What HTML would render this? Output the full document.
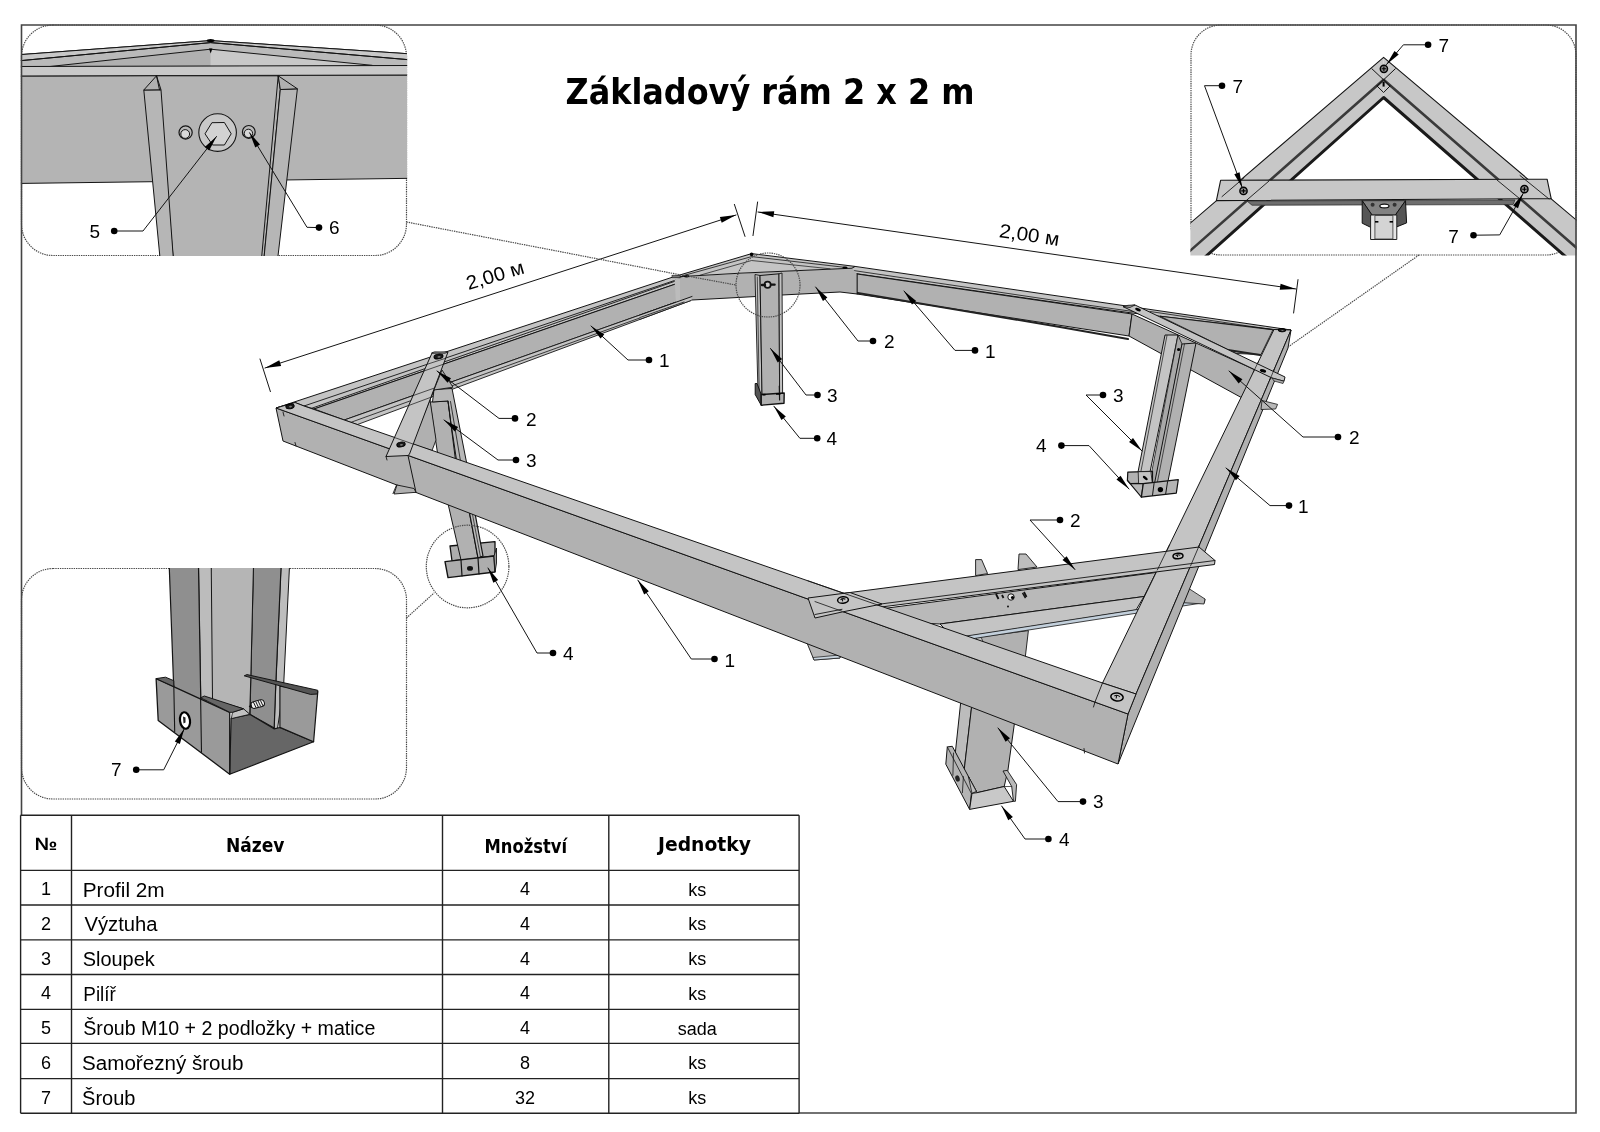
<!DOCTYPE html>
<html lang="cs"><head><meta charset="utf-8"><title>Základový rám 2 x 2 m</title>
<style>html,body{margin:0;padding:0;background:#fff}svg{display:block}text{font-family:"Liberation Sans",sans-serif;fill:#000}svg{will-change:transform}</style></head>
<body>
<svg width="1600" height="1132" viewBox="0 0 1600 1132">
<rect width="1600" height="1132" fill="#fff"/>
<defs>
<clipPath id="c1"><rect x="20.9" y="24.4" width="386.2" height="231.7" rx="32" ry="32"/></clipPath>
<clipPath id="c2"><rect x="1191" y="25" width="385" height="230" rx="30" ry="30"/></clipPath>
<clipPath id="c2b"><rect x="1190.4" y="24.4" width="386.2" height="231.2"/></clipPath>
<clipPath id="c3"><rect x="20.9" y="567.9" width="386.2" height="231.7" rx="32" ry="32"/></clipPath>
</defs>
<rect x="21.5" y="25" width="385" height="230.5" rx="31.5" ry="31.5" stroke="#4a4a4a" stroke-width="1.2" stroke-dasharray="1.4 0.9" fill="none"/>
<rect x="1191" y="25" width="385" height="230" rx="30" ry="30" stroke="#4a4a4a" stroke-width="1.2" stroke-dasharray="1.4 0.9" fill="none"/>
<rect x="21.5" y="568.5" width="385" height="230.5" rx="31.5" ry="31.5" stroke="#4a4a4a" stroke-width="1.2" stroke-dasharray="1.4 0.9" fill="none"/>
<g clip-path="url(#c1)">
<polygon points="15,76 412,75 412,178.3 15,183.5" fill="#b4b4b4" stroke="#141414" stroke-width="1" stroke-linejoin="round" />
<polygon points="15,55 210.6,40.6 412,54 412,66 15,67" fill="#bababa" stroke="#141414" stroke-width="1" stroke-linejoin="round" />
<polygon points="15,55 210.6,40.6 412,54 412,60 210.6,42.6 15,61.2" fill="#c8c8c8" stroke="#141414" stroke-width="1" stroke-linejoin="round" />
<polygon points="50,66.5 210.6,49.2 210.6,66.5" fill="#b0b0b0" stroke="none" stroke-width="1" stroke-linejoin="round" />
<polygon points="210.6,49.2 370,65 210.6,66.5" fill="#c8c8c8" stroke="none" stroke-width="1" stroke-linejoin="round" />
<polyline points="15,61.2 210.6,42.6 412,60" fill="none" stroke="#141414" stroke-width="1" stroke-linejoin="round" stroke-linecap="round" />
<polyline points="50,66.5 210.6,49.2 372,65.3" fill="none" stroke="#141414" stroke-width="1" stroke-linejoin="round" stroke-linecap="round" />
<polygon points="15,66.5 412,65.5 412,75 15,76" fill="#c9c9c9" stroke="#141414" stroke-width="1" stroke-linejoin="round" />
<ellipse cx="210.6" cy="40.6" rx="4" ry="1.6" fill="#000" stroke="none" stroke-width="1"/>
<polygon points="209,48.5 212.4,48.5 210.7,53.5" fill="#000" stroke="none" stroke-width="1" stroke-linejoin="round" />
<polygon points="156.5,75.8 278.2,75.8 280.3,89.5 263.6,262 173.6,262" fill="#b4b4b4" stroke="#141414" stroke-width="1" stroke-linejoin="round" />
<polygon points="143.8,90 161,89.8 173.6,262 160.4,262" fill="#b6b6b6" stroke="#141414" stroke-width="1" stroke-linejoin="round" />
<polygon points="156.5,75.8 143.8,90 161,89.8" fill="#b0b0b0" stroke="#141414" stroke-width="1" stroke-linejoin="round" />
<polyline points="156.5,75.8 159.5,89.8" fill="none" stroke="#141414" stroke-width="1" stroke-linejoin="round" stroke-linecap="round" />
<polygon points="280.3,89.5 297.4,88.8 277.3,262 263.6,262" fill="#b6b6b6" stroke="#141414" stroke-width="1" stroke-linejoin="round" />
<polygon points="278.2,75.8 297.4,88.8 280.3,89.5" fill="#b0b0b0" stroke="#141414" stroke-width="1" stroke-linejoin="round" />
<polyline points="278.2,75.8 261.2,262" fill="none" stroke="#141414" stroke-width="1" stroke-linejoin="round" stroke-linecap="round" />
<circle cx="217.6" cy="132.6" r="18.8" fill="#c8c8c8" stroke="#141414" stroke-width="1.1" />
<polygon points="211.9,122.7 224.4,122.5 231.2,133.8 224.4,145 212.5,145 205,133.8" fill="#d2d2d2" stroke="#141414" stroke-width="1" stroke-linejoin="round" />
<circle cx="185.6" cy="132.5" r="6.6" fill="#b8b8b8" stroke="#141414" stroke-width="1.2" />
<circle cx="185.2" cy="134" r="4.4" fill="#d8d8d8" stroke="#141414" stroke-width="1" />
<circle cx="248.8" cy="131.9" r="6.4" fill="#b8b8b8" stroke="#141414" stroke-width="1.2" />
<circle cx="248.4" cy="133.4" r="4.2" fill="#d8d8d8" stroke="#141414" stroke-width="1" />
</g>
<polyline points="114.2,231 143,231 216.5,136.5" fill="none" stroke="#141414" stroke-width="1" stroke-linejoin="round" stroke-linecap="round" />
<circle cx="114.2" cy="231" r="3.3" fill="#000" stroke="none" stroke-width="1" />
<polygon points="216.5,136.5 209.194,150.454 204.774,147.016" fill="#000" stroke="none" stroke-width="1" stroke-linejoin="round" />
<polyline points="319,227.6 307,227.3 249.6,132.8" fill="none" stroke="#141414" stroke-width="1" stroke-linejoin="round" stroke-linecap="round" />
<circle cx="319" cy="227.6" r="3.3" fill="#000" stroke="none" stroke-width="1" />
<polygon points="249.6,132.8 260.04,144.594 255.254,147.501" fill="#000" stroke="none" stroke-width="1" stroke-linejoin="round" />
<text x="89.5" y="237.7" font-size="19" text-anchor="start" font-weight="normal" >5</text>
<text x="329" y="233.8" font-size="19" text-anchor="start" font-weight="normal" >6</text>
<g clip-path="url(#c2b)">
<polygon points="1383.6,57.4 1144.92,262 1199.56,262 1383.6,97.5" fill="#c7c7c7" stroke="none" stroke-width="1" stroke-linejoin="round" />
<polygon points="1383.6,57.4 1626,262 1571.72,262 1383.6,97.5" fill="#c7c7c7" stroke="none" stroke-width="1" stroke-linejoin="round" />
<polyline points="1144.92,262 1383.6,57.4 1626,262" fill="none" stroke="#141414" stroke-width="1.1" stroke-linejoin="round" stroke-linecap="round" />
<polyline points="1177.42,262 1383.6,79.8 1592.89,262" fill="none" stroke="#3a3a3a" stroke-width="2.6" stroke-linejoin="round" stroke-linecap="round" />
<polyline points="1199.56,262 1383.6,97.5 1571.72,262" fill="none" stroke="#1a1a1a" stroke-width="3" stroke-linejoin="round" stroke-linecap="round" />
<polyline points="1371.9,68.8 1383.6,79.8 1395.3,68.8" fill="none" stroke="#141414" stroke-width="1" stroke-linejoin="round" stroke-linecap="round" />
<polyline points="1377,86 1383.6,92.5 1390,86" fill="none" stroke="#141414" stroke-width="1" stroke-linejoin="round" stroke-linecap="round" />
<polyline points="1377,86 1383.6,79.8 1390,86" fill="none" stroke="#141414" stroke-width="1" stroke-linejoin="round" stroke-linecap="round" />
<polygon points="1247,201 1515,200 1513,204.6 1252,205.2" fill="#6e6e6e" stroke="#333" stroke-width="0.8" stroke-linejoin="round" />
<polygon points="1220.6,180.3 1547.1,179.2 1551.2,198.6 1216.4,200.6" fill="#c7c7c7" stroke="#141414" stroke-width="1.1" stroke-linejoin="round" />
<polyline points="1244,177.8 1222,196.6" fill="none" stroke="#141414" stroke-width="0.9" stroke-linejoin="round" stroke-linecap="round" />
<polyline points="1269,181 1246,200.8" fill="none" stroke="#141414" stroke-width="0.9" stroke-linejoin="round" stroke-linecap="round" />
<polyline points="1520,175.5 1549,199" fill="none" stroke="#141414" stroke-width="0.9" stroke-linejoin="round" stroke-linecap="round" />
<polyline points="1497,180 1522,200.6" fill="none" stroke="#141414" stroke-width="0.9" stroke-linejoin="round" stroke-linecap="round" />
<polygon points="1362.2,200.7 1405.5,200.7 1395.4,215 1372,215" fill="#828282" stroke="#222" stroke-width="0.8" stroke-linejoin="round" />
<polygon points="1362.2,200.7 1362.2,223.2 1373.7,228.8 1372,215" fill="#555" stroke="#111" stroke-width="1" stroke-linejoin="round" />
<polygon points="1405.5,200.7 1406.6,222.9 1393.4,228.2 1395.4,215" fill="#555" stroke="#111" stroke-width="1" stroke-linejoin="round" />
<polygon points="1370.6,215 1396.8,215 1396.8,239.5 1370.6,239.5" fill="#e6e6e6" stroke="#222" stroke-width="1" stroke-linejoin="round" />
<polygon points="1374.9,215.5 1392.9,215.5 1392.9,239 1374.9,239" fill="#d4d4d4" stroke="#333" stroke-width="0.8" stroke-linejoin="round" />
<ellipse cx="1384.4" cy="206" rx="4.6" ry="1.9" fill="#fff" stroke="#111" stroke-width="1.2"/>
<circle cx="1372.6" cy="204.7" r="2" fill="#333" stroke="none" stroke-width="1" />
<circle cx="1394.6" cy="204.7" r="2" fill="#333" stroke="none" stroke-width="1" />
<rect x="1375" y="221" width="3.4" height="1.6" fill="#000"/><rect x="1389.6" y="221" width="3.4" height="1.6" fill="#000"/>
<circle cx="1383.9" cy="68.8" r="3.6" fill="#8a8a8a" stroke="#000" stroke-width="1.5" />
<path d="M1381.7 68.8 H1386.1000000000001 M1383.9 66.6 V71.0" stroke="#000" stroke-width="1.1"/>
<circle cx="1243.5" cy="190.9" r="3.6" fill="#8a8a8a" stroke="#000" stroke-width="1.5" />
<path d="M1241.3 190.9 H1245.7 M1243.5 188.70000000000002 V193.1" stroke="#000" stroke-width="1.1"/>
<circle cx="1524.4" cy="189.2" r="3.6" fill="#8a8a8a" stroke="#000" stroke-width="1.5" />
<path d="M1522.2 189.2 H1526.6000000000001 M1524.4 187.0 V191.39999999999998" stroke="#000" stroke-width="1.1"/>
<rect x="1382.6" y="82" width="2" height="4.6" fill="#000"/>
</g>
<polyline points="1428.1,44.8 1403.4,44.8 1386.5,64.5" fill="none" stroke="#141414" stroke-width="1" stroke-linejoin="round" stroke-linecap="round" />
<circle cx="1428.1" cy="44.8" r="3.3" fill="#000" stroke="none" stroke-width="1" />
<polygon points="1386.5,64.5 1394.47,50.9126 1398.72,54.5588" fill="#000" stroke="none" stroke-width="1" stroke-linejoin="round" />
<polyline points="1222,85.7 1204.5,85.7 1242.3,187.8" fill="none" stroke="#141414" stroke-width="1" stroke-linejoin="round" stroke-linecap="round" />
<circle cx="1222" cy="85.7" r="3.3" fill="#000" stroke="none" stroke-width="1" />
<polygon points="1242.3,187.8 1234.29,174.236 1239.54,172.292" fill="#000" stroke="none" stroke-width="1" stroke-linejoin="round" />
<polyline points="1473.5,235.2 1499.7,234.9 1523.2,193.4" fill="none" stroke="#141414" stroke-width="1" stroke-linejoin="round" stroke-linecap="round" />
<circle cx="1473.5" cy="235.2" r="3.3" fill="#000" stroke="none" stroke-width="1" />
<polygon points="1523.2,193.4 1518,208.267 1513.13,205.508" fill="#000" stroke="none" stroke-width="1" stroke-linejoin="round" />
<text x="1438.5" y="51.9" font-size="19" text-anchor="start" font-weight="normal" >7</text>
<text x="1232.5" y="92.6" font-size="19" text-anchor="start" font-weight="normal" >7</text>
<text x="1448.3" y="242.5" font-size="19" text-anchor="start" font-weight="normal" >7</text>
<g clip-path="url(#c3)">
<polygon points="281.3,560 289.8,560 283.5,688 277.5,728.5 274,728.5 275.8,684" fill="#bdbdbd" stroke="#141414" stroke-width="1" stroke-linejoin="round" />
<polygon points="253.6,560 281.4,560 275.8,684 274.2,728 250,714.5 250.8,677" fill="#8f8f8f" stroke="#141414" stroke-width="1.2" stroke-linejoin="round" />
<polygon points="211.2,560 253.6,560 250.8,677 249.7,714.3 243.5,708.8 204.3,697.5" fill="#b5b5b5" stroke="#141414" stroke-width="1" stroke-linejoin="round" />
<polygon points="198.4,560 211.2,560 212.5,699.5 200.8,702" fill="#bcbcbc" stroke="#141414" stroke-width="1" stroke-linejoin="round" />
<polygon points="169,560 198.4,560 200.8,702 173.8,690" fill="#8f8f8f" stroke="#141414" stroke-width="1.2" stroke-linejoin="round" />
<polygon points="231.1,718.5 249.7,714.3 274,728.8 280,727.5 313.6,741.8 229.7,774.2" fill="#666" stroke="#141414" stroke-width="1.2" stroke-linejoin="round" />
<polygon points="232.5,712.3 243.5,708.8 249.7,714.3 231.3,718.6" fill="#c2c2c2" stroke="#141414" stroke-width="0.8" stroke-linejoin="round" />
<polygon points="279.9,686.1 317.8,691.6 313.6,741.8 279.9,727.4" fill="#9a9a9a" stroke="#141414" stroke-width="1.2" stroke-linejoin="round" />
<polygon points="244.2,675.8 247,674.6 317.8,690.3 317.4,694 310.5,694.4" fill="#555" stroke="#141414" stroke-width="1" stroke-linejoin="round" />
<polygon points="156.1,678.6 229.7,712.3 229.7,774.2 158.2,720.5" fill="#9a9a9a" stroke="#141414" stroke-width="1.3" stroke-linejoin="round" />
<polyline points="173.8,685.5 174.7,731.5" fill="none" stroke="#141414" stroke-width="1.1" stroke-linejoin="round" stroke-linecap="round" />
<polyline points="200.6,697.8 201.5,752.2" fill="none" stroke="#141414" stroke-width="1.1" stroke-linejoin="round" stroke-linecap="round" />
<polygon points="156.1,678.6 165.5,677.2 173.8,680.7 173.8,686.6" fill="#666" stroke="#141414" stroke-width="1" stroke-linejoin="round" />
<polygon points="200.6,697.8 204.3,696 243.5,708.8 232.5,712.3 229.7,712.3" fill="#666" stroke="#141414" stroke-width="1" stroke-linejoin="round" />
<g transform="rotate(-14 258 704)"><rect x="251" y="700.6" width="13.5" height="6.8" rx="3" fill="#eee" stroke="#111" stroke-width="1"/><path d="M254 701 l1.2 6 M256.4 701 l1.2 6 M258.8 701 l1.2 6 M261.2 701 l1.2 6" stroke="#111" stroke-width="0.9"/><path d="M251.5 702 l-3.2 2.4 l3.2 2.4z" fill="#111"/></g>
<ellipse cx="185" cy="720.5" rx="5" ry="8.3" fill="#fff" stroke="#000" stroke-width="2.2" transform="rotate(-8 185 720.5)"/>
<path d="M183 716.5 l2.5 1 v5 l-2 1z" fill="#222"/>
</g>
<polyline points="136.2,769.8 163.7,769.8 184.3,728.8" fill="none" stroke="#141414" stroke-width="1" stroke-linejoin="round" stroke-linecap="round" />
<circle cx="136.2" cy="769.8" r="3.3" fill="#000" stroke="none" stroke-width="1" />
<polygon points="184.3,728.8 179.843,743.907 174.839,741.393" fill="#000" stroke="none" stroke-width="1" stroke-linejoin="round" />
<text x="111" y="776.3" font-size="19" text-anchor="start" font-weight="normal" >7</text>
<polygon points="276,408 673,277 690,279 314,409 304,406 295,402.5" fill="#c4c4c4" stroke="#141414" stroke-width="1" stroke-linejoin="round" />
<polyline points="304,406 676,280" fill="none" stroke="#141414" stroke-width="0.9" stroke-linejoin="round" stroke-linecap="round" />
<polyline points="311,408.5 680,279.5" fill="none" stroke="#141414" stroke-width="0.9" stroke-linejoin="round" stroke-linecap="round" />
<polygon points="314,409 690,279 692,296.5 344.3,420" fill="#b1b1b1" stroke="#141414" stroke-width="1" stroke-linejoin="round" />
<polygon points="344.3,420 692,296.5 691,300.5 676,306 357.3,424.6" fill="#c4c4c4" stroke="#141414" stroke-width="0.9" stroke-linejoin="round" />
<polyline points="351,422.3 684,302" fill="none" stroke="#141414" stroke-width="0.8" stroke-linejoin="round" stroke-linecap="round" />
<polygon points="855,266.4 1291,330 1274,329.5 1132,313 1060,303 842,271.6" fill="#c4c4c4" stroke="#141414" stroke-width="1" stroke-linejoin="round" />
<polyline points="850,270 1060,301.2 1140,312.5" fill="none" stroke="#141414" stroke-width="0.8" stroke-linejoin="round" stroke-linecap="round" />
<polygon points="857,274 1132,314 1129,336 857,294" fill="#b1b1b1" stroke="#141414" stroke-width="1" stroke-linejoin="round" />
<polyline points="840,290 1060,327 1128,339" fill="none" stroke="#222" stroke-width="2" stroke-linejoin="round" stroke-linecap="round" />
<polygon points="1160,316.2 1273,329.8 1261,354.5 1236,353.5" fill="#b1b1b1" stroke="#141414" stroke-width="0.9" stroke-linejoin="round" />
<polyline points="1150,311.5 1272,329.5" fill="none" stroke="#141414" stroke-width="0.8" stroke-linejoin="round" stroke-linecap="round" />
<polyline points="1228,350 1260,355" fill="none" stroke="#222" stroke-width="2" stroke-linejoin="round" stroke-linecap="round" />
<polygon points="676,279 688,276.5 740,273.5 852,268 857,274 857,294 840,292 782,295 756,296.5 692,300 676,306" fill="#b1b1b1" stroke="none" stroke-width="1" stroke-linejoin="round" />
<polygon points="674.5,279.5 680,279 680,302 676,303" fill="#bcbcbc" stroke="none" stroke-width="1" stroke-linejoin="round" />
<polyline points="692,300 756,296.5 782,295 840,292 857,294" fill="none" stroke="#141414" stroke-width="1" stroke-linejoin="round" stroke-linecap="round" />
<polygon points="640,315 692,296.5 691,300.5 676,306 640,319.3" fill="#c4c4c4" stroke="none" stroke-width="1" stroke-linejoin="round" />
<polyline points="640,315 692,296.5" fill="none" stroke="#141414" stroke-width="1" stroke-linejoin="round" stroke-linecap="round" />
<polyline points="640,319.3 676,306 691,300.5" fill="none" stroke="#141414" stroke-width="0.9" stroke-linejoin="round" stroke-linecap="round" />
<polyline points="640,317.5 684,302" fill="none" stroke="#141414" stroke-width="0.8" stroke-linejoin="round" stroke-linecap="round" />
<polygon points="673,277 751.6,253.6 855,266.4 852,268.2 740,273.2 688,276.2" fill="#c4c4c4" stroke="#141414" stroke-width="1" stroke-linejoin="round" />
<polyline points="682,276 751.6,256.6 846,267.5" fill="none" stroke="#141414" stroke-width="0.8" stroke-linejoin="round" stroke-linecap="round" />
<polyline points="700,275.2 751.6,260.5 830,268.8" fill="none" stroke="#141414" stroke-width="0.7" stroke-linejoin="round" stroke-linecap="round" />
<polyline points="857,274 857,294" fill="none" stroke="#141414" stroke-width="0.8" stroke-linejoin="round" stroke-linecap="round" />
<circle cx="751.6" cy="254.4" r="1.8" fill="#000" stroke="none" stroke-width="1" />
<ellipse cx="686.5" cy="276.2" rx="2.6" ry="1.4" fill="#000" stroke="none" stroke-width="1"/>
<ellipse cx="845" cy="267.6" rx="2.6" ry="1.2" fill="#000" stroke="none" stroke-width="1"/>
<rect x="672" y="275.2" width="8" height="2.6" fill="#777" stroke="#222" stroke-width="0.6"/>
<polygon points="755,274.5 760,275.5 762,395 758,393" fill="#c2c2c2" stroke="#141414" stroke-width="0.9" stroke-linejoin="round" />
<polygon points="760,275.5 779,273.8 779.6,394 762,395" fill="#b1b1b1" stroke="#141414" stroke-width="1" stroke-linejoin="round" />
<polygon points="779,273.8 782,273 782.6,393 779.6,394" fill="#c2c2c2" stroke="#141414" stroke-width="0.9" stroke-linejoin="round" />
<polyline points="757.3,277 759.2,392" fill="none" stroke="#141414" stroke-width="0.7" stroke-linejoin="round" stroke-linecap="round" />
<polygon points="755.2,383.5 757,383.5 761.2,394.5 761.2,405.2 755.2,394.5" fill="#555" stroke="#111" stroke-width="1" stroke-linejoin="round" />
<polygon points="761.2,394.5 784.2,393 784,403.2 761.2,405.2" fill="#b0b0b0" stroke="#111" stroke-width="1.4" stroke-linejoin="round" />
<polyline points="779.3,386 779.6,400" fill="none" stroke="#141414" stroke-width="1.2" stroke-linejoin="round" stroke-linecap="round" />
<path d="M776 394 h4.5 M762.5 394.6 h3" stroke="#000" stroke-width="1.6"/>
<circle cx="767.6" cy="284.8" r="3.1" fill="#ccc" stroke="#111" stroke-width="1.7" />
<path d="M762 285 h3 M771 284.6 h3.6" stroke="#111" stroke-width="2.4" stroke-linecap="round"/>
<polygon points="430,402 448,401 458,470 440,470" fill="#b1b1b1" stroke="#141414" stroke-width="1" stroke-linejoin="round" />
<polygon points="434,389.5 452,388.5 470,480 458,480 448,401 432.5,402" fill="#b8b8b8" stroke="#141414" stroke-width="1" stroke-linejoin="round" />
<polyline points="448,401 450.5,420 458,470" fill="none" stroke="#141414" stroke-width="1" stroke-linejoin="round" stroke-linecap="round" />
<polyline points="450.5,401.5 462,470" fill="none" stroke="#141414" stroke-width="0.8" stroke-linejoin="round" stroke-linecap="round" />
<polygon points="430,400 411.5,444 432,450.5 436,440" fill="#b0b0b0" stroke="#141414" stroke-width="0.9" stroke-linejoin="round" />
<polygon points="442,370 453,387.2 434,390 429,402" fill="#b1b1b1" stroke="#141414" stroke-width="0.9" stroke-linejoin="round" />
<polygon points="450,546 495,541.6 495,556 452,561" fill="#adadad" stroke="#111" stroke-width="1.3" stroke-linejoin="round" />
<polygon points="446,495 468,505 478,558 461,560" fill="#b1b1b1" stroke="#141414" stroke-width="1" stroke-linejoin="round" />
<polygon points="468,505 474,508 483,556 478,558" fill="#bababa" stroke="#111" stroke-width="1.2" stroke-linejoin="round" />
<polyline points="471,506.5 480.5,557" fill="none" stroke="#141414" stroke-width="0.7" stroke-linejoin="round" stroke-linecap="round" />
<polygon points="445,561.6 494,556 495,572 448,577.6" fill="#adadad" stroke="#111" stroke-width="1.4" stroke-linejoin="round" />
<polygon points="494,556 496.5,548 496.5,563 495,572" fill="#9a9a9a" stroke="#141414" stroke-width="0.9" stroke-linejoin="round" />
<polyline points="461,560 462,576" fill="none" stroke="#141414" stroke-width="1.2" stroke-linejoin="round" stroke-linecap="round" />
<polyline points="478,558 479,574" fill="none" stroke="#141414" stroke-width="1.2" stroke-linejoin="round" stroke-linecap="round" />
<ellipse cx="470" cy="568.4" rx="3" ry="2.4" fill="#111" stroke="none" stroke-width="1"/>
<polygon points="1132,314 1262,373 1244,399 1129,336" fill="#b1b1b1" stroke="#141414" stroke-width="1" stroke-linejoin="round" />
<polygon points="1165,335 1178,335 1150,472 1138,472" fill="#c4c4c4" stroke="#141414" stroke-width="1" stroke-linejoin="round" />
<polygon points="1178,335 1182,344 1155,486 1149,486" fill="#a8a8a8" stroke="#141414" stroke-width="0.8" stroke-linejoin="round" />
<polygon points="1182,344 1196,343 1167,486 1154,486" fill="#b1b1b1" stroke="#141414" stroke-width="1" stroke-linejoin="round" />
<polyline points="1167,335.5 1141,471" fill="none" stroke="#141414" stroke-width="0.7" stroke-linejoin="round" stroke-linecap="round" />
<polyline points="1184.5,344 1157,484" fill="none" stroke="#141414" stroke-width="0.7" stroke-linejoin="round" stroke-linecap="round" />
<circle cx="1178.6" cy="349.5" r="1.6" fill="#000" stroke="none" stroke-width="1" />
<polygon points="1127.8,472.1 1152.5,471.3 1152.5,483 1130.2,483.6 1127.4,480.4" fill="#b2b2b2" stroke="#111" stroke-width="1.2" stroke-linejoin="round" />
<polygon points="1138.2,471.7 1150.9,471.5 1152.3,483.2 1138.6,483.6" fill="#c4c4c4" stroke="#141414" stroke-width="0.8" stroke-linejoin="round" />
<polygon points="1127.4,480.4 1130.2,483.6 1143.3,483.6 1141.4,497.1" fill="#b8b8b8" stroke="#111" stroke-width="1.1" stroke-linejoin="round" />
<polygon points="1143.3,483.6 1178.3,479.6 1176.3,493.2 1141.4,497.1" fill="#b4b4b4" stroke="#111" stroke-width="1.2" stroke-linejoin="round" />
<polyline points="1154.1,483 1152.5,495.5" fill="none" stroke="#141414" stroke-width="1" stroke-linejoin="round" stroke-linecap="round" />
<polyline points="1167.6,481.5 1165.6,494.4" fill="none" stroke="#141414" stroke-width="1" stroke-linejoin="round" stroke-linecap="round" />
<circle cx="1160.4" cy="489.6" r="2.7" fill="#000" stroke="none" stroke-width="1" />
<ellipse cx="1145.3" cy="478" rx="3" ry="1.3" fill="#000" stroke="none" stroke-width="1" transform="rotate(38 1145.3 478)"/>
<polygon points="976,637.5 1028.4,630.6 1024,668 990,660" fill="#b1b1b1" stroke="#141414" stroke-width="0.9" stroke-linejoin="round" />
<polygon points="976,637.5 981,637 992,662 986,660" fill="#c2c2c2" stroke="#141414" stroke-width="0.7" stroke-linejoin="round" />
<polygon points="962,690 973,695 963.4,776.6 962.4,789 955.4,752" fill="#bcbcbc" stroke="#141414" stroke-width="1" stroke-linejoin="round" />
<polygon points="973,695 1016,712 1007.9,770.4 1004.2,786.5 977,792.7 968.4,776.6 963.4,776.6" fill="#b1b1b1" stroke="#141414" stroke-width="1" stroke-linejoin="round" />
<polygon points="947.3,746.9 952.3,746.3 976.4,791.4 971.4,793.5 969.6,809.4 945.8,764.2" fill="#b4b4b4" stroke="#141414" stroke-width="1" stroke-linejoin="round" />
<polyline points="953.5,753 952.9,775.3" fill="none" stroke="#141414" stroke-width="0.8" stroke-linejoin="round" stroke-linecap="round" />
<polyline points="963.4,776.6 962.4,792.7" fill="none" stroke="#141414" stroke-width="0.8" stroke-linejoin="round" stroke-linecap="round" />
<polyline points="947.3,746.9 971.4,793.5" fill="none" stroke="#141414" stroke-width="0.8" stroke-linejoin="round" stroke-linecap="round" />
<polygon points="972,793.3 977,792.7 1004.2,786.5 1013.5,801.3 969.6,809.4" fill="#c8c8c8" stroke="#141414" stroke-width="1" stroke-linejoin="round" />
<polygon points="1003,771 1007.3,770.4 1016.6,784.6 1015.4,801.3 1013.5,801.3 1011.7,786.5" fill="#b8b8b8" stroke="#141414" stroke-width="0.9" stroke-linejoin="round" />
<polyline points="1004.2,786.5 1011.7,786.5" fill="none" stroke="#141414" stroke-width="0.7" stroke-linejoin="round" stroke-linecap="round" />
<polygon points="968.4,776.6 976.4,791.4 972,793.3" fill="#c0c0c0" stroke="#141414" stroke-width="0.8" stroke-linejoin="round" />
<ellipse cx="957.5" cy="778.5" rx="2.2" ry="3.2" fill="#222" stroke="none" stroke-width="1" transform="rotate(-15 957.5 778.5)"/>
<polygon points="807,643 840,651 840,658 814,660" fill="#b8b8b8" stroke="#141414" stroke-width="0.9" stroke-linejoin="round" />
<polygon points="813,657.5 840,655 840,658 814,660" fill="#c8d4de" stroke="#141414" stroke-width="0.7" stroke-linejoin="round" />
<polygon points="880,609 1156,572.5 1144,596.5 940,624 900,622" fill="#b9b9b9" stroke="#141414" stroke-width="1" stroke-linejoin="round" />
<polygon points="940,624 1144,596.5 1136,610 960,637.5 948,632" fill="#c4c4c4" stroke="#141414" stroke-width="1" stroke-linejoin="round" />
<polygon points="960,637 1205,599 1204.5,602.6 962,640.4" fill="#c3d0dc" stroke="#141414" stroke-width="0.8" stroke-linejoin="round" />
<polygon points="1188,588 1205,599 1204,604 1180,602.5" fill="#b5b5b5" stroke="#141414" stroke-width="0.8" stroke-linejoin="round" />
<polygon points="975.6,559.6 981.6,559.6 987.6,573.6 975.6,575.6" fill="#bdbdbd" stroke="#141414" stroke-width="0.9" stroke-linejoin="round" />
<polygon points="1019,554 1026,554 1037,567 1018,569.6" fill="#bdbdbd" stroke="#141414" stroke-width="0.9" stroke-linejoin="round" />
<polygon points="1274,329.5 1291,330 1136,694 1102.5,683" fill="#c4c4c4" stroke="#141414" stroke-width="1" stroke-linejoin="round" />
<polygon points="1291,330 1288,348 1118,764 1128,714 1136,694" fill="#b0b0b0" stroke="#141414" stroke-width="1" stroke-linejoin="round" />
<polygon points="1123,306.6 1135,305 1285,377 1284,381.2 1272,378" fill="#c4c4c4" stroke="#141414" stroke-width="1" stroke-linejoin="round" />
<polygon points="1123,306.6 1128,305.3 1135,305 1130,307.5" fill="#999" stroke="#141414" stroke-width="0.8" stroke-linejoin="round" />
<polygon points="1272,378 1284,381.2 1283,383.5 1274,381" fill="#aaa" stroke="#141414" stroke-width="0.7" stroke-linejoin="round" />
<ellipse cx="1138" cy="309.6" rx="3" ry="1.5" fill="#000" stroke="none" stroke-width="1" transform="rotate(20 1138 309.6)"/>
<ellipse cx="1263" cy="370.8" rx="3.2" ry="1.6" fill="#000" stroke="none" stroke-width="1" transform="rotate(15 1263 370.8)"/>
<polyline points="1258.23,362 1253.38,372" fill="none" stroke="#141414" stroke-width="0.7" stroke-linejoin="round" stroke-linecap="round" />
<polyline points="1274.39,369 1269.71,380" fill="none" stroke="#141414" stroke-width="0.7" stroke-linejoin="round" stroke-linecap="round" />
<polygon points="1262,400.5 1277.6,404.4 1275.6,409 1261,409.5" fill="#b8b8b8" stroke="#141414" stroke-width="0.8" stroke-linejoin="round" />
<polygon points="808,598 1199,547 1215,560.5 1214.5,564.5 842,612 815,618" fill="#c4c4c4" stroke="#141414" stroke-width="1" stroke-linejoin="round" />
<polyline points="815,614.5 840,609.3 1215,560.5" fill="none" stroke="#141414" stroke-width="0.9" stroke-linejoin="round" stroke-linecap="round" />
<circle cx="1011" cy="597" r="3.2" fill="#eee" stroke="#111" stroke-width="1" />
<circle cx="1012.5" cy="597.5" r="1.6" fill="#000" stroke="none" stroke-width="1" />
<path d="M996 594 l2.5 5 M1024 592 l2.5 5 M1002 595 l1.5 3" stroke="#111" stroke-width="1.8"/><circle cx="1008" cy="606.5" r="0.9"/>
<path d="M1022.5 592.8 l3 5.4" stroke="#111" stroke-width="1.4"/>
<polygon points="276,408 1128,714 1118,764 283,441" fill="#b1b1b1" stroke="#141414" stroke-width="1" stroke-linejoin="round" />
<polygon points="276,408 295,402.5 304,406 1102.5,683 1136,694 1128,714" fill="#c4c4c4" stroke="#141414" stroke-width="1" stroke-linejoin="round" />
<polyline points="1102.5,683 1095,702" fill="none" stroke="#141414" stroke-width="0.9" stroke-linejoin="round" stroke-linecap="round" />
<polyline points="1095,702 1093.5,707" fill="none" stroke="#141414" stroke-width="0.9" stroke-linejoin="round" stroke-linecap="round" />
<polyline points="1084,748.5 1084.5,753" fill="none" stroke="#141414" stroke-width="0.9" stroke-linejoin="round" stroke-linecap="round" />
<polyline points="283,412 284,416" fill="none" stroke="#141414" stroke-width="0.9" stroke-linejoin="round" stroke-linecap="round" />
<polyline points="295,442.5 296,446" fill="none" stroke="#141414" stroke-width="0.9" stroke-linejoin="round" stroke-linecap="round" />
<polyline points="408,455.5 416,492.3" fill="none" stroke="#141414" stroke-width="1" stroke-linejoin="round" stroke-linecap="round" />
<polygon points="808,598 850,592.5 882,604 842,612 815,618" fill="#c4c4c4" stroke="#141414" stroke-width="1" stroke-linejoin="round" />
<polyline points="815,614.5 842,609.3" fill="none" stroke="#141414" stroke-width="0.9" stroke-linejoin="round" stroke-linecap="round" />
<polyline points="808,580.838 880,605.815" fill="none" stroke="#141414" stroke-width="0.8" stroke-linejoin="round" stroke-linecap="round" />
<polyline points="815,601.585 842,611.282" fill="none" stroke="#141414" stroke-width="0.8" stroke-linejoin="round" stroke-linecap="round" />
<polyline points="1169.44,545 1157.31,570" fill="none" stroke="#141414" stroke-width="0.8" stroke-linejoin="round" stroke-linecap="round" />
<polyline points="1199.45,545 1190.51,566" fill="none" stroke="#141414" stroke-width="0.8" stroke-linejoin="round" stroke-linecap="round" />
<polygon points="394,494 397,485 414,488.5 416,492.3" fill="#b0b0b0" stroke="#141414" stroke-width="0.9" stroke-linejoin="round" />
<polyline points="393,493.6 396.5,485" fill="none" stroke="#141414" stroke-width="0.9" stroke-linejoin="round" stroke-linecap="round" />
<polygon points="432,353 448,352 409.5,454 408,455.5 386,456.5" fill="#c4c4c4" stroke="#141414" stroke-width="1" stroke-linejoin="round" />
<polygon points="431.5,353 434.5,351.8 448,352 445,353.3" fill="#999" stroke="#141414" stroke-width="0.7" stroke-linejoin="round" />
<polyline points="386,456.5 387,460" fill="none" stroke="#141414" stroke-width="0.9" stroke-linejoin="round" stroke-linecap="round" />
<polyline points="427.4,364.2 445.5,358.3" fill="none" stroke="#141414" stroke-width="0.7" stroke-linejoin="round" stroke-linecap="round" />
<polyline points="424.2,370.9 443.2,364.3" fill="none" stroke="#141414" stroke-width="0.7" stroke-linejoin="round" stroke-linecap="round" />
<polyline points="412.5,395.8 433.7,388.3" fill="none" stroke="#141414" stroke-width="0.7" stroke-linejoin="round" stroke-linecap="round" />
<polyline points="408.5,405.6 430.3,397.5" fill="none" stroke="#141414" stroke-width="0.7" stroke-linejoin="round" stroke-linecap="round" />
<polyline points="394.7,437.6 413.3,444.1" fill="none" stroke="#141414" stroke-width="0.7" stroke-linejoin="round" stroke-linecap="round" />
<ellipse cx="290" cy="406.3" rx="4.2" ry="2.4" fill="#1a1a1a" stroke="#000" stroke-width="1" transform="rotate(-10 290 406.3)"/>
<ellipse cx="290.5" cy="406.6" rx="1.512" ry="0.864" fill="#777" stroke="none" stroke-width="1" transform="rotate(-10 290.5 406.6)"/>
<ellipse cx="438.5" cy="356.5" rx="4.5" ry="2.4" fill="#1a1a1a" stroke="#000" stroke-width="1" transform="rotate(-8 438.5 356.5)"/>
<ellipse cx="439" cy="356.8" rx="1.62" ry="0.864" fill="#777" stroke="none" stroke-width="1" transform="rotate(-8 439 356.8)"/>
<ellipse cx="401" cy="444.5" rx="4.2" ry="2.4" fill="#1a1a1a" stroke="#000" stroke-width="1" transform="rotate(-8 401 444.5)"/>
<ellipse cx="401.5" cy="444.8" rx="1.512" ry="0.864" fill="#777" stroke="none" stroke-width="1" transform="rotate(-8 401.5 444.8)"/>
<ellipse cx="843" cy="600" rx="5.4" ry="3.3" fill="#c4c4c4" stroke="#000" stroke-width="1.5" transform="rotate(-5 843 600)"/>
<path d="M840.57 599.505 q2.43 -1.815 4.86 0 M842.46 599.01 v2.31" fill="none" stroke="#111" stroke-width="1.1" transform="rotate(-5 843 600)"/>
<ellipse cx="1117" cy="697" rx="6.2" ry="4" fill="#c4c4c4" stroke="#000" stroke-width="1.5" transform="rotate(8 1117 697)"/>
<path d="M1114.21 696.4 q2.79 -2.2 5.58 0 M1116.38 695.8 v2.8" fill="none" stroke="#111" stroke-width="1.1" transform="rotate(8 1117 697)"/>
<ellipse cx="1178" cy="556" rx="5" ry="2.8" fill="#c4c4c4" stroke="#000" stroke-width="1.5" transform="rotate(-5 1178 556)"/>
<path d="M1175.75 555.58 q2.25 -1.54 4.5 0 M1177.5 555.16 v1.96" fill="none" stroke="#111" stroke-width="1.1" transform="rotate(-5 1178 556)"/>
<ellipse cx="1282" cy="330.2" rx="3.6" ry="1.6" fill="#1a1a1a" stroke="#000" stroke-width="1" transform="rotate(5 1282 330.2)"/>
<ellipse cx="1282.5" cy="330.5" rx="1.296" ry="0.576" fill="#777" stroke="none" stroke-width="1" transform="rotate(5 1282.5 330.5)"/>
<polyline points="265,368 736,215" fill="none" stroke="#141414" stroke-width="1" stroke-linejoin="round" stroke-linecap="round" />
<polygon points="265,368 279.29,360.204 281.144,365.91" fill="#000" stroke="none" stroke-width="1" stroke-linejoin="round" />
<polygon points="736,215 721.71,222.796 719.856,217.09" fill="#000" stroke="none" stroke-width="1" stroke-linejoin="round" />
<polyline points="260,359 270.4,391.6" fill="none" stroke="#141414" stroke-width="1" stroke-linejoin="round" stroke-linecap="round" />
<polyline points="734.4,204.4 745,236.4" fill="none" stroke="#141414" stroke-width="1" stroke-linejoin="round" stroke-linecap="round" />
<polyline points="758,212 1296,289" fill="none" stroke="#141414" stroke-width="1" stroke-linejoin="round" stroke-linecap="round" />
<polygon points="758,212 774.264,211.297 773.414,217.237" fill="#000" stroke="none" stroke-width="1" stroke-linejoin="round" />
<polygon points="1296,289 1279.74,289.703 1280.59,283.763" fill="#000" stroke="none" stroke-width="1" stroke-linejoin="round" />
<polyline points="757.6,202 753,235.6" fill="none" stroke="#141414" stroke-width="1" stroke-linejoin="round" stroke-linecap="round" />
<polyline points="1298,279.6 1293.6,313" fill="none" stroke="#141414" stroke-width="1" stroke-linejoin="round" stroke-linecap="round" />
<text x="468.5" y="290" font-size="19.5" text-anchor="start" font-weight="normal" transform="rotate(-16.6 468.5 290)" textLength="59.5" lengthAdjust="spacingAndGlyphs">2,00 м</text>
<text x="998.5" y="237" font-size="19.5" text-anchor="start" font-weight="normal" transform="rotate(8.5 998.5 237)" textLength="60.5" lengthAdjust="spacingAndGlyphs">2,00 м</text>
<polyline points="649,360 628,360 591,326" fill="none" stroke="#141414" stroke-width="1" stroke-linejoin="round" stroke-linecap="round" />
<circle cx="649" cy="360" r="3.3" fill="#000" stroke="none" stroke-width="1" />
<polygon points="591,326 604.308,334.426 600.519,338.549" fill="#000" stroke="none" stroke-width="1" stroke-linejoin="round" />
<text x="659" y="367" font-size="19" text-anchor="start" font-weight="normal" >1</text>
<polyline points="873,341 858,341 815.6,287" fill="none" stroke="#141414" stroke-width="1" stroke-linejoin="round" stroke-linecap="round" />
<circle cx="873" cy="341" r="3.3" fill="#000" stroke="none" stroke-width="1" />
<polygon points="815.6,287 827.375,297.462 822.97,300.92" fill="#000" stroke="none" stroke-width="1" stroke-linejoin="round" />
<text x="884" y="347.6" font-size="19" text-anchor="start" font-weight="normal" >2</text>
<polyline points="975,350.4 955,350.4 904,291" fill="none" stroke="#141414" stroke-width="1" stroke-linejoin="round" stroke-linecap="round" />
<circle cx="975" cy="350.4" r="3.3" fill="#000" stroke="none" stroke-width="1" />
<polygon points="904,291 916.221,300.936 911.973,304.584" fill="#000" stroke="none" stroke-width="1" stroke-linejoin="round" />
<text x="985" y="357.6" font-size="19" text-anchor="start" font-weight="normal" >1</text>
<polyline points="817.5,395 806,395 770.5,348.5" fill="none" stroke="#141414" stroke-width="1" stroke-linejoin="round" stroke-linecap="round" />
<circle cx="817.5" cy="395" r="3.3" fill="#000" stroke="none" stroke-width="1" />
<polygon points="770.5,348.5 782.131,359.121 777.68,362.519" fill="#000" stroke="none" stroke-width="1" stroke-linejoin="round" />
<text x="827" y="402" font-size="19" text-anchor="start" font-weight="normal" >3</text>
<polyline points="817.2,438.3 799.9,438.3 773.9,406.2" fill="none" stroke="#141414" stroke-width="1" stroke-linejoin="round" stroke-linecap="round" />
<circle cx="817.2" cy="438.3" r="3.3" fill="#000" stroke="none" stroke-width="1" />
<polygon points="773.9,406.2 785.832,416.482 781.48,420.007" fill="#000" stroke="none" stroke-width="1" stroke-linejoin="round" />
<text x="826.6" y="445.3" font-size="19" text-anchor="start" font-weight="normal" >4</text>
<polyline points="515,418.4 499,418.4 437,371" fill="none" stroke="#141414" stroke-width="1" stroke-linejoin="round" stroke-linecap="round" />
<circle cx="515" cy="418.4" r="3.3" fill="#000" stroke="none" stroke-width="1" />
<polygon points="437,371 451.014,378.19 447.613,382.638" fill="#000" stroke="none" stroke-width="1" stroke-linejoin="round" />
<text x="526" y="425.6" font-size="19" text-anchor="start" font-weight="normal" >2</text>
<polyline points="516,460 498,460 444,420" fill="none" stroke="#141414" stroke-width="1" stroke-linejoin="round" stroke-linecap="round" />
<circle cx="516" cy="460" r="3.3" fill="#000" stroke="none" stroke-width="1" />
<polygon points="444,420 458.122,426.976 454.788,431.476" fill="#000" stroke="none" stroke-width="1" stroke-linejoin="round" />
<text x="526" y="467" font-size="19" text-anchor="start" font-weight="normal" >3</text>
<polyline points="553,653 537,653 488,568" fill="none" stroke="#141414" stroke-width="1" stroke-linejoin="round" stroke-linecap="round" />
<circle cx="553" cy="653" r="3.3" fill="#000" stroke="none" stroke-width="1" />
<polygon points="488,568 498.167,580.03 493.315,582.827" fill="#000" stroke="none" stroke-width="1" stroke-linejoin="round" />
<text x="563" y="660" font-size="19" text-anchor="start" font-weight="normal" >4</text>
<polyline points="714.5,659 691.3,659 637.8,580.1" fill="none" stroke="#141414" stroke-width="1" stroke-linejoin="round" stroke-linecap="round" />
<circle cx="714.5" cy="659" r="3.3" fill="#000" stroke="none" stroke-width="1" />
<polygon points="637.8,580.1 648.816,591.357 644.181,594.5" fill="#000" stroke="none" stroke-width="1" stroke-linejoin="round" />
<text x="724.4" y="666.7" font-size="19" text-anchor="start" font-weight="normal" >1</text>
<polyline points="1103,395 1086,395 1142,451" fill="none" stroke="#141414" stroke-width="1" stroke-linejoin="round" stroke-linecap="round" />
<circle cx="1103" cy="395" r="3.3" fill="#000" stroke="none" stroke-width="1" />
<polygon points="1142,451 1129.06,442.02 1133.02,438.06" fill="#000" stroke="none" stroke-width="1" stroke-linejoin="round" />
<text x="1113" y="401.5" font-size="19" text-anchor="start" font-weight="normal" >3</text>
<polyline points="1061.4,445.6 1089,445.6 1129,489" fill="none" stroke="#141414" stroke-width="1" stroke-linejoin="round" stroke-linecap="round" />
<circle cx="1061.4" cy="445.6" r="3.3" fill="#000" stroke="none" stroke-width="1" />
<polygon points="1129,489 1116.44,479.5 1120.55,475.705" fill="#000" stroke="none" stroke-width="1" stroke-linejoin="round" />
<text x="1036" y="452" font-size="19" text-anchor="start" font-weight="normal" >4</text>
<polyline points="1338,437 1303,437 1229,371" fill="none" stroke="#141414" stroke-width="1" stroke-linejoin="round" stroke-linecap="round" />
<circle cx="1338" cy="437" r="3.3" fill="#000" stroke="none" stroke-width="1" />
<polygon points="1229,371 1242.43,379.227 1238.7,383.407" fill="#000" stroke="none" stroke-width="1" stroke-linejoin="round" />
<text x="1349" y="444" font-size="19" text-anchor="start" font-weight="normal" >2</text>
<polyline points="1289,505.6 1270,505.6 1226,468" fill="none" stroke="#141414" stroke-width="1" stroke-linejoin="round" stroke-linecap="round" />
<circle cx="1289" cy="505.6" r="3.3" fill="#000" stroke="none" stroke-width="1" />
<polygon points="1226,468 1239.6,475.941 1235.96,480.198" fill="#000" stroke="none" stroke-width="1" stroke-linejoin="round" />
<text x="1298" y="513" font-size="19" text-anchor="start" font-weight="normal" >1</text>
<polyline points="1060,520 1030,520 1075,569.6" fill="none" stroke="#141414" stroke-width="1" stroke-linejoin="round" stroke-linecap="round" />
<circle cx="1060" cy="520" r="3.3" fill="#000" stroke="none" stroke-width="1" />
<polygon points="1075,569.6 1062.51,560.002 1066.66,556.239" fill="#000" stroke="none" stroke-width="1" stroke-linejoin="round" />
<text x="1070" y="527" font-size="19" text-anchor="start" font-weight="normal" >2</text>
<polyline points="1083,801.6 1058,801.6 998,728" fill="none" stroke="#141414" stroke-width="1" stroke-linejoin="round" stroke-linecap="round" />
<circle cx="1083" cy="801.6" r="3.3" fill="#000" stroke="none" stroke-width="1" />
<polygon points="998,728 1009.96,738.245 1005.62,741.783" fill="#000" stroke="none" stroke-width="1" stroke-linejoin="round" />
<text x="1093" y="808.4" font-size="19" text-anchor="start" font-weight="normal" >3</text>
<polyline points="1048.4,839 1025,839 1001.6,806" fill="none" stroke="#141414" stroke-width="1" stroke-linejoin="round" stroke-linecap="round" />
<circle cx="1048.4" cy="839" r="3.3" fill="#000" stroke="none" stroke-width="1" />
<polygon points="1001.6,806 1012.85,817.024 1008.28,820.263" fill="#000" stroke="none" stroke-width="1" stroke-linejoin="round" />
<text x="1059" y="845.6" font-size="19" text-anchor="start" font-weight="normal" >4</text>
<path d="M21.5 815 V25 H1576 V1113 H799" fill="none" stroke="#444" stroke-width="1.6"/>
<path d="M406.5 222 L676 274 L736 285" stroke="#4a4a4a" stroke-width="1.2" stroke-dasharray="1.4 0.9" fill="none"/>
<path d="M1419 255 L1288 347" stroke="#4a4a4a" stroke-width="1.2" stroke-dasharray="1.4 0.9" fill="none"/>
<path d="M406.5 618 L434 593" stroke="#4a4a4a" stroke-width="1.2" stroke-dasharray="1.4 0.9" fill="none"/>
<circle cx="768" cy="285" r="32" stroke="#4a4a4a" stroke-width="1.2" stroke-dasharray="1.4 0.9" fill="none"/>
<circle cx="467.6" cy="566.5" r="41.3" stroke="#4a4a4a" stroke-width="1.2" stroke-dasharray="1.4 0.9" fill="none"/>
<text x="565.5" y="104" font-size="34.8" text-anchor="start" font-weight="bold" style="font-family:'DejaVu Sans','Liberation Sans',sans-serif" textLength="409" lengthAdjust="spacingAndGlyphs">Základový rám 2 x 2 m</text>
<rect x="20.6" y="815.2" width="778.5" height="298.0" fill="#fff" stroke="none"/>
<line x1="20.6" y1="815.2" x2="799.1" y2="815.2" stroke="#222" stroke-width="1.4"/>
<line x1="20.6" y1="870.4" x2="799.1" y2="870.4" stroke="#222" stroke-width="1.4"/>
<line x1="20.6" y1="905" x2="799.1" y2="905" stroke="#222" stroke-width="1.4"/>
<line x1="20.6" y1="939.9" x2="799.1" y2="939.9" stroke="#222" stroke-width="1.4"/>
<line x1="20.6" y1="974.5" x2="799.1" y2="974.5" stroke="#222" stroke-width="1.4"/>
<line x1="20.6" y1="1009.4" x2="799.1" y2="1009.4" stroke="#222" stroke-width="1.4"/>
<line x1="20.6" y1="1043.4" x2="799.1" y2="1043.4" stroke="#222" stroke-width="1.4"/>
<line x1="20.6" y1="1078.6" x2="799.1" y2="1078.6" stroke="#222" stroke-width="1.4"/>
<line x1="20.6" y1="1113.2" x2="799.1" y2="1113.2" stroke="#222" stroke-width="1.4"/>
<line x1="20.6" y1="815.2" x2="20.6" y2="1113.2" stroke="#222" stroke-width="1.4"/>
<line x1="71.5" y1="815.2" x2="71.5" y2="1113.2" stroke="#222" stroke-width="1.4"/>
<line x1="442.5" y1="815.2" x2="442.5" y2="1113.2" stroke="#222" stroke-width="1.4"/>
<line x1="608.8" y1="815.2" x2="608.8" y2="1113.2" stroke="#222" stroke-width="1.4"/>
<line x1="799.1" y1="815.2" x2="799.1" y2="1113.2" stroke="#222" stroke-width="1.4"/>
<text x="46" y="849.8" font-size="17.8" text-anchor="middle" font-weight="bold" textLength="22.7" lengthAdjust="spacingAndGlyphs">№</text>
<text x="255.2" y="852.2" font-size="19.5" text-anchor="middle" font-weight="bold" style="font-family:'DejaVu Sans','Liberation Sans',sans-serif" textLength="58.5" lengthAdjust="spacingAndGlyphs">Název</text>
<text x="525.8" y="852.8" font-size="19" text-anchor="middle" font-weight="bold" style="font-family:'DejaVu Sans','Liberation Sans',sans-serif" textLength="82.5" lengthAdjust="spacingAndGlyphs">Množství</text>
<text x="704.5" y="851.3" font-size="20" text-anchor="middle" font-weight="bold" style="font-family:'DejaVu Sans','Liberation Sans',sans-serif" textLength="93" lengthAdjust="spacingAndGlyphs">Jednotky</text>
<text x="46" y="895.3" font-size="18" text-anchor="middle" font-weight="normal" >1</text>
<text x="82.7" y="896.7" font-size="19.6" text-anchor="start" font-weight="normal" textLength="82" lengthAdjust="spacingAndGlyphs">Profil 2m</text>
<text x="525" y="895.3" font-size="18" text-anchor="middle" font-weight="normal" >4</text>
<text x="697.3" y="895.8" font-size="18" text-anchor="middle" font-weight="normal" >ks</text>
<text x="46" y="929.9" font-size="18" text-anchor="middle" font-weight="normal" >2</text>
<text x="84.5" y="931.3" font-size="19.6" text-anchor="start" font-weight="normal" textLength="73" lengthAdjust="spacingAndGlyphs">Výztuha</text>
<text x="525" y="929.9" font-size="18" text-anchor="middle" font-weight="normal" >4</text>
<text x="697.3" y="930.4" font-size="18" text-anchor="middle" font-weight="normal" >ks</text>
<text x="46" y="964.8" font-size="18" text-anchor="middle" font-weight="normal" >3</text>
<text x="82.7" y="966.2" font-size="19.6" text-anchor="start" font-weight="normal" textLength="72" lengthAdjust="spacingAndGlyphs">Sloupek</text>
<text x="525" y="964.8" font-size="18" text-anchor="middle" font-weight="normal" >4</text>
<text x="697.3" y="965.3" font-size="18" text-anchor="middle" font-weight="normal" >ks</text>
<text x="46" y="999.4" font-size="18" text-anchor="middle" font-weight="normal" >4</text>
<text x="83.3" y="1000.8" font-size="19.6" text-anchor="start" font-weight="normal" textLength="32.5" lengthAdjust="spacingAndGlyphs">Pilíř</text>
<text x="525" y="999.4" font-size="18" text-anchor="middle" font-weight="normal" >4</text>
<text x="697.3" y="999.9" font-size="18" text-anchor="middle" font-weight="normal" >ks</text>
<text x="46" y="1034" font-size="18" text-anchor="middle" font-weight="normal" >5</text>
<text x="83.3" y="1035.4" font-size="19.6" text-anchor="start" font-weight="normal" textLength="292" lengthAdjust="spacingAndGlyphs">Šroub M10 + 2 podložky + matice</text>
<text x="525" y="1034" font-size="18" text-anchor="middle" font-weight="normal" >4</text>
<text x="697.3" y="1034.5" font-size="18" text-anchor="middle" font-weight="normal" >sada</text>
<text x="46" y="1068.9" font-size="18" text-anchor="middle" font-weight="normal" >6</text>
<text x="82.1" y="1070.3" font-size="19.6" text-anchor="start" font-weight="normal" textLength="161.3" lengthAdjust="spacingAndGlyphs">Samořezný šroub</text>
<text x="525" y="1068.9" font-size="18" text-anchor="middle" font-weight="normal" >8</text>
<text x="697.3" y="1069.4" font-size="18" text-anchor="middle" font-weight="normal" >ks</text>
<text x="46" y="1103.5" font-size="18" text-anchor="middle" font-weight="normal" >7</text>
<text x="82.1" y="1104.9" font-size="19.6" text-anchor="start" font-weight="normal" textLength="53.4" lengthAdjust="spacingAndGlyphs">Šroub</text>
<text x="525" y="1103.5" font-size="18" text-anchor="middle" font-weight="normal" >32</text>
<text x="697.3" y="1104" font-size="18" text-anchor="middle" font-weight="normal" >ks</text>
</svg>
</body></html>
